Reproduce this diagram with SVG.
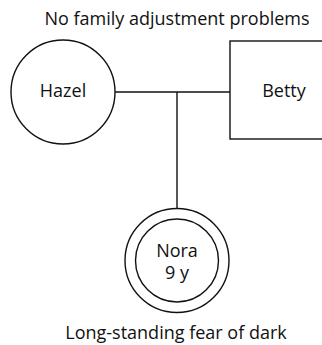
<svg xmlns="http://www.w3.org/2000/svg" width="322" height="345" viewBox="0 0 322 345">
<style>
.s{fill:none;stroke:#111;stroke-width:1.4}
text{font-family:"Open Sans","Liberation Sans",sans-serif;font-size:18px;fill:#111;text-anchor:middle}
</style>
<rect width="322" height="345" fill="#fff"/>
<text x="177" y="25">No family adjustment problems</text>
<g id="connectors">
<line class="s" x1="115" y1="92" x2="230" y2="92"/>
<line class="s" x1="177" y1="92" x2="177" y2="208"/>
</g>
<g id="hazel">
<circle class="s" cx="63" cy="92" r="52"/>
<text x="63" y="97">Hazel</text>
</g>
<g id="betty">
<rect class="s" x="230" y="41" width="100" height="98"/>
<text x="284" y="97">Betty</text>
</g>
<g id="nora">
<circle class="s" cx="177" cy="260.5" r="52"/>
<circle class="s" cx="177" cy="260.5" r="41.5"/>
<text x="177" y="257">Nora</text>
<text x="177" y="279">9 y</text>
</g>
<text x="176" y="339">Long-standing fear of dark</text>
</svg>
